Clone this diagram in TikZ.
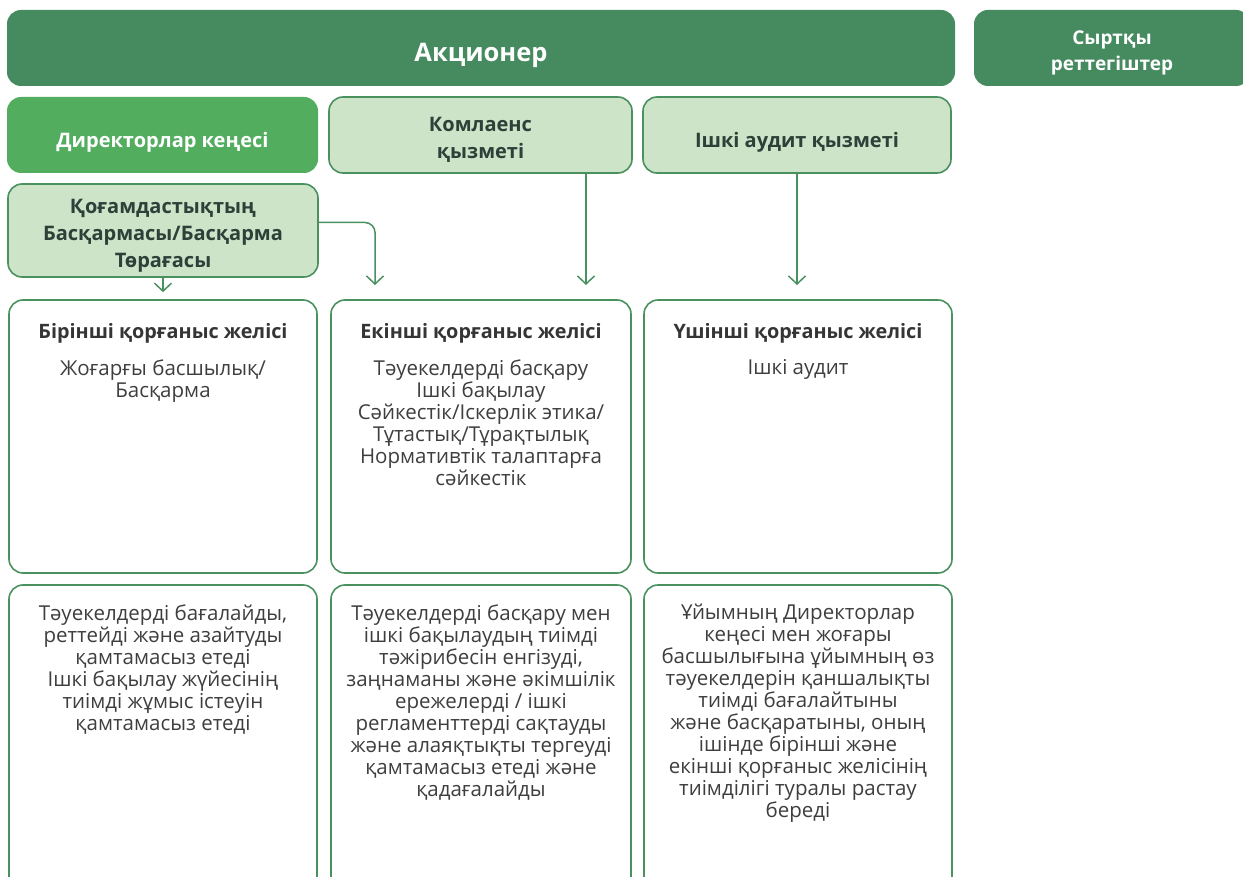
\documentclass[tikz,border=0pt]{standalone}
\usepackage{fontspec}
\setmainfont{Open Sans}
\usepackage{xcolor}
\usepackage{tikz}
\usetikzlibrary{arrows.meta,positioning,calc}

\definecolor{darkg}{RGB}{70,138,95}
\definecolor{midg}{RGB}{82,173,95}
\definecolor{lightg}{RGB}{205,228,201}
\definecolor{lineg}{RGB}{74,145,96}
\definecolor{txtd}{RGB}{46,64,56}
\definecolor{txtg}{RGB}{62,62,62}

\begin{document}
\begin{tikzpicture}[x=1pt,y=-1pt,
  topbox/.style={fill=darkg,rounded corners=14pt,inner sep=0pt},
  greenbox/.style={fill=midg,rounded corners=14pt,inner sep=0pt},
  lightbox/.style={fill=lightg,draw=lineg,line width=1.6pt,rounded corners=14pt,inner sep=0pt},
  linebox/.style={draw=lineg,line width=1.6pt,rounded corners=14pt,inner sep=0pt},
  headtxt/.style={inner sep=0pt,text=white,font=\fontsize{20}{27}\selectfont\bfseries,align=center},
  darktxt/.style={inner sep=0pt,text=txtd,font=\fontsize{20}{27}\selectfont\bfseries,align=center},
  titletxt/.style={anchor=north,inner sep=0pt,text=txtg!85!black,font=\fontsize{19.8}{22}\selectfont\bfseries,align=center},
  bodytxt/.style={anchor=north,inner sep=0pt,text=txtg,font=\fontsize{20.5}{22}\selectfont,align=center},
  arr/.style={draw=lineg,line width=1.5pt,-{Straight Barb[length=8pt,width=17pt]}}]
\useasboundingbox (0,0) rectangle (1243,877);
\clip (0,0) rectangle (1243,877);

% Top row
\node[topbox,minimum width=948pt,minimum height=76pt] (share) at (481,48) {};
\node[topbox,minimum width=276pt,minimum height=76pt] (reg) at (1112,48) {};
\node[headtxt,font=\fontsize{25.5}{30}\selectfont\bfseries] (sharet) at ([yshift=-7pt]share.center) {Акционер};
\node[headtxt,font=\fontsize{19}{26}\selectfont\bfseries] (regt) at ([yshift=-4.5pt]reg.center) {Сыртқы\\реттегіштер};

% Second row
\node[greenbox,minimum width=311pt,minimum height=76pt] (board) at (162.5,135) {};
\node[lightbox,minimum width=303pt,minimum height=76pt] (comp) at (480.5,135) {};
\node[lightbox,minimum width=308pt,minimum height=76pt] (audit) at (797,135) {};
\node[lightbox,minimum width=310pt,minimum height=93pt] (mgmt) at (163,230.5) {};

\node[headtxt] (boardt) at ([yshift=-7pt]board.center) {Директорлар кеңесі};
\node[darktxt] (compt) at ([yshift=-4.5pt]comp.center) {Комлаенс\\қызметі};
\node[darktxt] (auditt) at ([yshift=-7pt]audit.center) {Ішкі аудит қызметі};
\node[darktxt] (mgmtt) at ([yshift=-5pt]mgmt.center) {Қоғамдастықтың\\Басқармасы/Басқарма\\Төрағасы};

% Lines of defence
\node[linebox,minimum width=308pt,minimum height=273pt] (l1) at (163,436.5) {};
\node[linebox,minimum width=300pt,minimum height=273pt] (l2) at (481,436.5) {};
\node[linebox,minimum width=308pt,minimum height=273pt] (l3) at (798,436.5) {};

\node[titletxt] (l1h) at ([yshift=-24pt]l1.north) {Бірінші қорғаныс желісі};
\node[titletxt] (l2h) at ([yshift=-24pt]l2.north) {Екінші қорғаныс желісі};
\node[titletxt] (l3h) at ([yshift=-24pt]l3.north) {Үшінші қорғаныс желісі};

\node[bodytxt] (l1b) at ([yshift=-60pt]l1.north) {Жоғарғы басшылық/\\Басқарма};
\node[bodytxt] (l2b) at ([yshift=-60pt]l2.north) {Тәуекелдерді басқару\\Ішкі бақылау\\Сәйкестік/Іскерлік этика/\\Тұтастық/Тұрақтылық\\Нормативтік талаптарға\\сәйкестік};
\node[bodytxt] (l3b) at ([yshift=-60pt]l3.north) {Ішкі аудит};

% Roles
\node[linebox,minimum width=308pt,minimum height=315pt] (r1) at (163,742.5) {};
\node[linebox,minimum width=300pt,minimum height=315pt] (r2) at (481,742.5) {};
\node[linebox,minimum width=308pt,minimum height=315pt] (r3) at (798,742.5) {};

\node[bodytxt] (r1b) at ([yshift=-20pt]r1.north) {Тәуекелдерді бағалайды,\\реттейді және азайтуды\\қамтамасыз етеді\\Ішкі бақылау жүйесінің\\тиімді жұмыс істеуін\\қамтамасыз етеді};
\node[bodytxt] (r2b) at ([yshift=-20pt]r2.north) {Тәуекелдерді басқару мен\\ішкі бақылаудың тиімді\\тәжірибесін енгізуді,\\заңнаманы және әкімшілік\\ережелерді / ішкі\\регламенттерді сақтауды\\және алаяқтықты тергеуді\\қамтамасыз етеді және\\қадағалайды};
\node[bodytxt] (r3b) at ([yshift=-20pt]r3.north) {Ұйымның Директорлар\\кеңесі мен жоғары\\басшылығына ұйымның өз\\тәуекелдерін қаншалықты\\тиімді бағалайтыны\\және басқаратыны, оның\\ішінде бірінші және\\екінші қорғаныс желісінің\\тиімділігі туралы растау\\береді};

% Arrows
\coordinate (t2) at (375,285);
\coordinate (t3) at (586,285);
\draw[arr] (mgmt.south) -- ([yshift=7pt]l1.north);
\draw[arr,rounded corners=10pt] ([yshift=8pt]mgmt.east) -| (t2);
\draw[arr] (comp.south -| t3) -- (t3);
\draw[arr] (audit.south) -- (audit.south |- t3);

\end{tikzpicture}
\end{document}
